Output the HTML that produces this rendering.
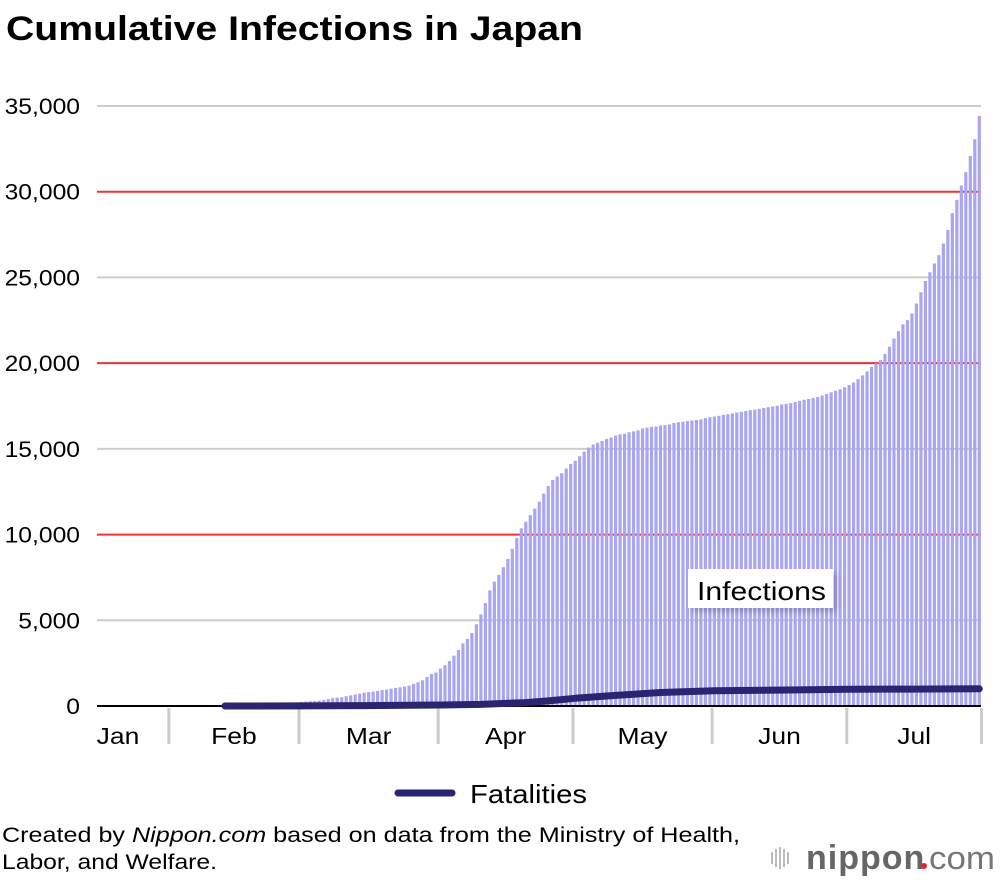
<!DOCTYPE html>
<html><head><meta charset="utf-8"><style>
body{margin:0;background:#fff;font-family:"Liberation Sans",Arial,sans-serif;}
#wrap{position:relative;width:1000px;height:882px;overflow:hidden;}
</style></head><body>
<div id="wrap">
<svg id="chart" width="1000" height="882" xmlns="http://www.w3.org/2000/svg">
<text x="6" y="40" font-size="34" font-weight="bold" fill="#000" textLength="577" lengthAdjust="spacingAndGlyphs">Cumulative Infections in Japan</text>
<g id="grid"></g><g id="bars"></g><g id="axis"></g><g id="line"></g>
<defs><filter id="blur"><feGaussianBlur stdDeviation="3"/></filter></defs>
<g>
<rect x="692" y="573" width="145" height="39" fill="#000" opacity="0.18" filter="url(#blur)"/>
<rect x="688" y="569" width="145" height="39" fill="#fff"/>
<text x="697" y="600" font-size="26" fill="#000" textLength="129" lengthAdjust="spacingAndGlyphs">Infections</text>
</g>
<g>
<line x1="398" y1="793" x2="452" y2="793" stroke="#2b2471" stroke-width="7" stroke-linecap="round"/>
<text x="470" y="803" font-size="26" fill="#000" textLength="117" lengthAdjust="spacingAndGlyphs">Fatalities</text>
</g>
<text x="2" y="842" font-size="21" fill="#000" textLength="738" lengthAdjust="spacingAndGlyphs">Created by <tspan font-style="italic">Nippon.com</tspan> based on data from the Ministry of Health,</text>
<text x="2" y="869" font-size="21" fill="#000" textLength="215" lengthAdjust="spacingAndGlyphs">Labor, and Welfare.</text>
<g>
<g fill="#bbb"><rect x="771" y="852" width="2" height="12"/><rect x="775" y="849" width="2" height="18"/><rect x="779" y="847" width="2" height="22"/><rect x="783" y="849" width="2" height="18"/><rect x="787" y="852" width="2" height="12"/></g>
<text x="806" y="869" font-size="34" font-weight="bold" fill="#666" letter-spacing="1">nippon</text>
<circle cx="924" cy="866" r="3" fill="#e8222a"/>
<text x="929" y="869" font-size="32" fill="#777" textLength="66" lengthAdjust="spacingAndGlyphs">com</text>
</g>
</svg>
</div>
<script>
const months = ["Jan","Feb","Mar","Apr","May","Jun","Jul"];
const monthStartIdx = [0,16,45,76,106,137,167,197];
const yTicks = [0,5000,10000,15000,20000,25000,30000,35000];
const yTickLabels = ["0","5,000","10,000","15,000","20,000","25,000","30,000","35,000"];
const infJan = [1,1,1,1,1,1,1,2,3,4,4,6,7,11,12,15];
const infFeb = [17,20,20,20,20,25,25,25,25,26,26,28,28,29,33,41,53,59,66,74,84,93,105,132,144,156,164,186,210];
const infMar = [239,256,274,293,317,349,408,455,488,514,568,620,675,716,780,814,839,873,924,950,1007,1054,1089,1128,1193,1291,1387,1499,1693,1866,1953];
const infApr = [2178,2381,2617,2935,3271,3654,3906,4257,4768,5347,6005,6748,7255,7645,8100,8582,9167,9795,10361,10751,11135,11512,11919,12388,12829,13182,13385,13576,13852,14119];
const infMay = [14305,14571,14839,15078,15253,15354,15463,15575,15663,15777,15847,15874,15968,16024,16079,16193,16237,16285,16305,16367,16385,16424,16513,16550,16581,16623,16651,16683,16719,16804,16851];
const infJun = [16884,16930,16986,17018,17064,17115,17161,17208,17251,17292,17332,17382,17429,17468,17516,17587,17628,17668,17740,17799,17864,17916,17968,18024,18110,18197,18297,18390,18476,18593];
const infJul = [18723,18874,19068,19282,19522,19775,19981,20174,20529,20955,21430,21868,22263,22508,22890,23473,24132,24794,25303,25813,26303,26974,27769,28756,29525,30367,31142,32080,33063,34422];
const fatalDayIdx = [28,45,59,76,85,95,100,106,115,125,137,151,167,181,196];
const fatalValues = [1,6,24,60,94,200,300,450,620,790,890,930,975,985,1006];

const NS="http://www.w3.org/2000/svg";
const X0=97, PITCH=4.49, Y0=706, YPX=600/35000;
const x = i => X0 + (i+0.5)*PITCH;
const y = v => Y0 - v*YPX;
function mk(tag, attrs, parent){const e=document.createElementNS(NS,tag);for(const k in attrs)e.setAttribute(k,attrs[k]);parent.appendChild(e);return e;}
function stretch(t,f){const w=t.getComputedTextLength();t.setAttribute('textLength',(w*f).toFixed(1));t.setAttribute('lengthAdjust','spacingAndGlyphs');}
const grid=document.getElementById('grid'), bars=document.getElementById('bars'), axis=document.getElementById('axis'), line=document.getElementById('line');
yTicks.forEach((t,k)=>{
  if(t>0){const g=mk('line',{x1:97,x2:981,y1:y(t),y2:y(t),stroke:(t%10000===0)?'#ee3333':'#cccccc','stroke-width':2},grid);
  
  }
  const tl=mk('text',{x:80,y:y(t)+8,'font-size':22,'text-anchor':'end',fill:'#000'},axis);
  tl.textContent=yTickLabels[k];
  
  
  stretch(tl,1.12);
});
const inf=[].concat(infJan,infFeb,infMar,infApr,infMay,infJun,infJul);
inf.forEach((v,i)=>{
  const r=mk('rect',{x:x(i)-1.6,y:y(v),width:3.2,height:Y0-y(v),fill:'#aaa5f0'},bars);
  
  
});
const base=mk('line',{x1:97,x2:981,y1:Y0,y2:Y0,stroke:'#000','stroke-width':2},axis);


months.forEach((m,k)=>{
  const a=X0+monthStartIdx[k]*PITCH, b=X0+monthStartIdx[k+1]*PITCH;
  const sep=mk('line',{x1:b,x2:b,y1:708,y2:744,stroke:'#cccccc','stroke-width':3},axis);
  
  
  const cx = k===0 ? a+21 : (a+b)/2;
  const t=mk('text',{x:cx,y:744,'font-size':23,'text-anchor':'middle',fill:'#000'},axis);
  t.textContent=m;
  
  
  stretch(t,1.15);
});
const pts=fatalDayIdx.map((d,i)=>x(d).toFixed(1)+','+y(fatalValues[i]).toFixed(1)).join(' ');
const pl=mk('polyline',{points:pts,fill:'none',stroke:'#2b2471','stroke-width':7,'stroke-linecap':'round','stroke-linejoin':'round'},line);


</script>
</body></html>
